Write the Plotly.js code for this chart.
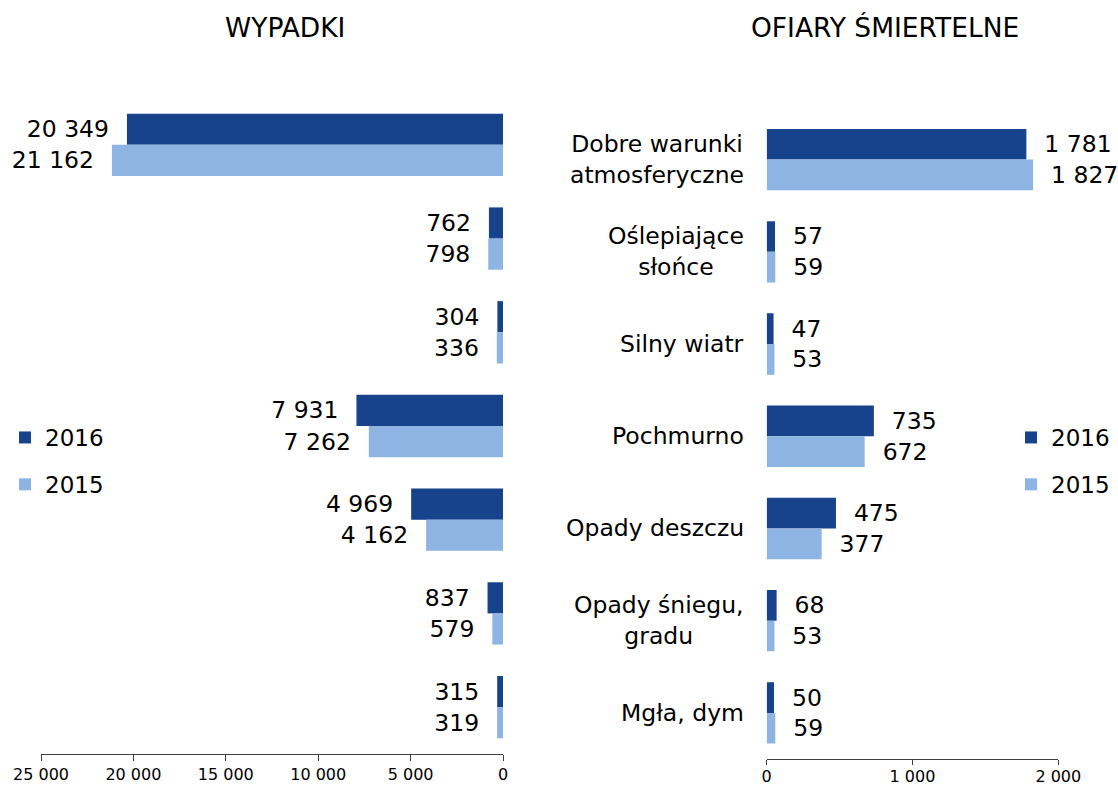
<!DOCTYPE html>
<html>
<head>
<meta charset="utf-8">
<script src="https://cdn.plot.ly/plotly-3.0.1.min.js"></script>
<style>html,body{margin:0;padding:0;background:#fff;}#chart{width:1118px;height:785px;}</style>
</head>
<body>
<div id="chart"></div>
<script>
// ---- data ----
const categories = ["Dobre warunki atmosferyczne", "Oślepiające słońce", "Silny wiatr", "Pochmurno", "Opady deszczu", "Opady śniegu, gradu", "Mgła, dym"];
const categoryLabels = ["Dobre warunki<br>atmosferyczne", "Oślepiające<br>słońce", "Silny wiatr", "Pochmurno", "Opady deszczu", "Opady śniegu,<br>gradu", "Mgła, dym"];
const seriesNames = ["2016", "2015"];
const wypadki2016 = [20349, 762, 304, 7931, 4969, 837, 315];
const wypadki2015 = [21162, 798, 336, 7262, 4162, 579, 319];
const ofiary2016 = [1781, 57, 47, 735, 475, 68, 50];
const ofiary2015 = [1827, 59, 53, 672, 377, 53, 59];
const titleLeft = "WYPADKI";
const titleRight = "OFIARY ŚMIERTELNE";

// ---- style ----
const FONT = "DejaVu Sans, Verdana, sans-serif";
const DARK = "#16438C";
const LIGHT = "#8EB4E3";
const W = 1118, H = 785;
const NB = "\u00A0\u00A0";
const fmt = v => String(v).replace(/\B(?=(\d{3})+(?!\d))/g, " ");

function barTrace(vals, name, color, xa, ya, leg, side) {
  return {
    type: "bar", orientation: "h",
    y: categories, x: vals, name: name,
    xaxis: xa, yaxis: ya, legend: leg, legendgroup: leg + name,
    marker: {color: color, line: {width: 0}},
    text: vals.map(v => side === "left" ? fmt(v) + NB : NB + fmt(v)),
    textposition: "outside", cliponaxis: false, constraintext: "none",
    textfont: {family: FONT, size: 23.5, color: "#000"},
    hoverinfo: "x+name"
  };
}

const data = [
  barTrace(wypadki2016, seriesNames[0], DARK, "x", "y", "legend", "left"),
  barTrace(wypadki2015, seriesNames[1], LIGHT, "x", "y", "legend", "left"),
  barTrace(ofiary2016, seriesNames[0], DARK, "x2", "y2", "legend2", "right"),
  barTrace(ofiary2015, seriesNames[1], LIGHT, "x2", "y2", "legend2", "right")
];

const axisCommon = {
  showgrid: false, zeroline: false, showline: true, linecolor: "#404040", linewidth: 1,
  ticks: "outside", ticklen: 6, tickcolor: "#404040", tickwidth: 1,
  tickformat: ",d", tickfont: {family: FONT, size: 16, color: "#000"}, fixedrange: true
};

const annotations = [
  {text: titleLeft, xref: "paper", yref: "paper", x: 285 / W, y: 1 - 28 / H, xanchor: "center", yanchor: "middle", showarrow: false, font: {family: FONT, size: 26.5, color: "#000"}},
  {text: titleRight, xref: "paper", yref: "paper", x: 885 / W, y: 1 - 28 / H, xanchor: "center", yanchor: "middle", showarrow: false, font: {family: FONT, size: 26.5, color: "#000"}}
];
categories.forEach((c, i) => {
  annotations.push({text: categoryLabels[i], xref: "paper", yref: "y2", x: 746 / W, y: c, xanchor: "right", yanchor: "middle", align: "center", showarrow: false, font: {family: FONT, size: 23.5, color: "#000"}});
});

const legendCommon = {
  orientation: "v", traceorder: "grouped", tracegroupgap: 14, yanchor: "middle", y: 1 - 461 / H,
  xanchor: "left", font: {family: FONT, size: 23, color: "#000"}, bgcolor: "rgba(0,0,0,0)", borderwidth: 0
};

const layout = {
  width: W, height: H,
  margin: {l: 0, r: 0, t: 0, b: 0, pad: 0},
  paper_bgcolor: "#fff", plot_bgcolor: "#fff",
  separators: ", ",
  barmode: "group", bargap: 0.335, bargroupgap: 0,
  showlegend: true,
  xaxis: Object.assign({}, axisCommon, {domain: [41 / W, 503 / W], range: [25000, 0], dtick: 5000, anchor: "y"}),
  yaxis: {domain: [1 - 754 / H, 1 - 98 / H], type: "category", autorange: "reversed", showticklabels: false, showline: false, showgrid: false, zeroline: false, ticks: "", anchor: "x", fixedrange: true},
  xaxis2: Object.assign({}, axisCommon, {domain: [766.7 / W, 1058.3 / W], range: [0, 2000], dtick: 1000, anchor: "y2", ticklen: 5, ticklabelstandoff: -2}),
  yaxis2: {domain: [1 - 759 / H, 1 - 113.5 / H], type: "category", autorange: "reversed", showticklabels: false, showline: false, showgrid: false, zeroline: false, ticks: "", anchor: "x2", fixedrange: true},
  legend: Object.assign({}, legendCommon, {x: 5 / W}),
  legend2: Object.assign({}, legendCommon, {x: 1011 / W}),
  annotations: annotations
};

Plotly.newPlot("chart", data, layout, {displayModeBar: false, staticPlot: false});
</script>
</body>
</html>
